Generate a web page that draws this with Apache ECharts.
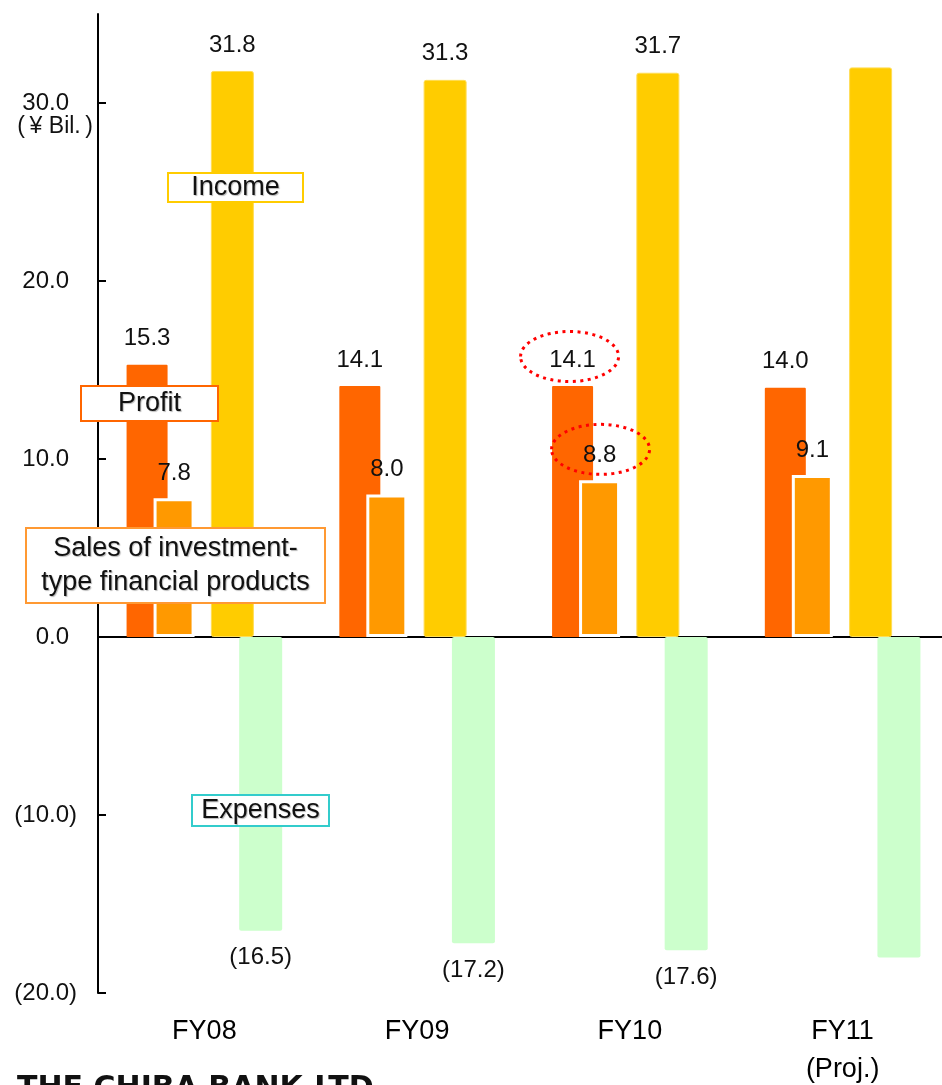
<!DOCTYPE html>
<html>
<head>
<meta charset="utf-8">
<script src="https://cdn.jsdelivr.net/npm/echarts@6/dist/echarts.min.js"></script>
<style>
  html, body { margin: 0; padding: 0; background: #fff; }
  #chart { width: 942px; height: 1085px; }
</style>
</head>
<body>
<div id="chart"></div>
<script>
// Fiscal years and the four series (¥ billions)
const categories = ['FY08', 'FY09', 'FY10', 'FY11\n(Proj.)'];
const profit   = [15.3, 14.1, 14.1, 14.0];
const sales    = [7.8, 8.0, 8.8, 9.1];
const income   = [31.8, 31.3, 31.7, 32.0];
const expenses = [-16.5, -17.2, -17.6, -18.0];
// which bars carry a value label
const incomeLabelled   = [true, true, true, false];
const expensesLabelled = [true, true, true, false];
// value-axis ticks
const yTicks = [-20, -10, 0, 10, 20, 30];

const FONT = '"Liberation Sans", Arial, sans-serif';
const fmt = v => v < 0 ? '(' + (-v).toFixed(1) + ')' : v.toFixed(1);

const chart = echarts.init(document.getElementById('chart'), null, { renderer: 'canvas' });

const GAP = '-34.15%';
const valueLabel = (pos, dist) => ({
  show: true, position: pos, distance: dist,
  color: '#111', fontSize: 24, fontFamily: FONT,
  formatter: p => fmt(p.value)
});

const boxText = (id, x, y, w, h, color, text) => ({
  type: 'group', id: id, z: 100,
  children: [
    { type: 'rect', z: 100, shape: { x: x, y: y, width: w, height: h },
      style: { fill: '#fff', stroke: color, lineWidth: 2 } },
    { type: 'text', z: 101, x: x + w / 2, y: y + h / 2,
      style: { text: text, fill: '#111', font: '27px ' + FONT, align: 'center',
               verticalAlign: 'middle', lineHeight: 34,
               textShadowColor: 'rgba(0,0,0,0.28)', textShadowOffsetX: 1,
               textShadowOffsetY: 1, textShadowBlur: 1 } }
  ]
});

chart.setOption({
  animation: false,
  backgroundColor: '#fff',
  grid: { left: 98, top: 14, width: 851, height: 979, outerBoundsMode: 'none', containLabel: false },
  xAxis: [
    {
      type: 'category', data: categories,
      axisLine: { onZero: true, lineStyle: { color: '#000', width: 2 } },
      axisTick: { inside: true, length: 10, lineStyle: { color: '#000', width: 2 } },
      axisLabel: { show: false },
      splitLine: { show: false }
    },
    {
      type: 'category', data: categories, position: 'bottom',
      axisLine: { show: false, onZero: false },
      axisTick: { show: false },
      axisLabel: { color: '#000', fontSize: 27, fontFamily: FONT, margin: 20, lineHeight: 38 },
      splitLine: { show: false }
    }
  ],
  yAxis: {
    type: 'value', min: -20, max: 35, interval: 10,
    axisLine: { show: true, lineStyle: { color: '#000', width: 2 } },
    axisTick: { show: true, inside: true, length: 8, customValues: yTicks,
                lineStyle: { color: '#000', width: 2 } },
    axisLabel: {
      customValues: yTicks, margin: 21, color: '#111', fontSize: 24, fontFamily: FONT,
      formatter: v => v < 0 ? fmt(v) : '{p|' + fmt(v) + '}',
      rich: { p: { fontSize: 24, fontFamily: FONT, color: '#111', padding: [0, 8, 0, 0] } }
    },
    splitLine: { show: false }
  },
  series: [
    {
      name: 'Profit', type: 'bar', xAxisIndex: 0, barWidth: 41, barGap: GAP,
      data: profit,
      itemStyle: { color: '#FF6600', borderRadius: 1 },
      label: valueLabel('top', 14)
    },
    {
      name: 'Sales of investment-type financial products', type: 'bar', xAxisIndex: 0,
      barWidth: 41, barGap: GAP,
      data: sales,
      itemStyle: { color: '#FF9900', borderColor: '#fff', borderWidth: 3 },
      label: valueLabel('top', 13)
    },
    {
      // empty slot that spaces the two pairs of bars
      name: 'spacer', type: 'bar', xAxisIndex: 0, barWidth: 46, barGap: GAP,
      data: categories.map(() => null), silent: true
    },
    {
      name: 'Income', type: 'bar', xAxisIndex: 0, barWidth: 43, barGap: GAP,
      data: income.map((v, i) => ({ value: v, label: { show: incomeLabelled[i] } })),
      itemStyle: { color: '#FFCC00', borderColor: '#FFDD55', borderWidth: 1, borderRadius: 2 },
      label: valueLabel('top', 14)
    },
    {
      name: 'Expenses', type: 'bar', xAxisIndex: 0, barWidth: 43, barGap: GAP,
      data: expenses.map((v, i) => ({ value: v, label: { show: expensesLabelled[i] } })),
      itemStyle: { color: '#CCFFCC', borderRadius: 2 },
      label: valueLabel('bottom', 15)
    }
  ],
  graphic: {
    elements: [
      { type: 'text', id: 'unit', x: 93, y: 127, z: 100,
        style: { text: '(\u2009¥ Bil.\u2009)', fill: '#111', font: '23px ' + FONT,
                 align: 'right', verticalAlign: 'middle' } },
      boxText('boxIncome', 168, 173, 135, 29, '#FFCC00', 'Income'),
      boxText('boxProfit', 81, 386, 137, 35, '#FF6600', 'Profit'),
      boxText('boxSales', 26, 528, 299, 75, '#FF9933', 'Sales of investment-\ntype financial products'),
      boxText('boxExpenses', 192, 795, 137, 31, '#33CCCC', 'Expenses'),
      { type: 'text', id: 'company', x: 17, y: 1074, z: 100,
        style: { text: 'THE CHIBA BANK,LTD.', fill: '#111', font: 'bold 30px "DejaVu Sans", sans-serif',
                 align: 'left', verticalAlign: 'top' } }
    ]
  }
});

// Dotted red rings highlighting the FY10 profit and sales figures
function barTop(seriesIndex, dataIndex) {
  const l = chart.getModel().getSeriesByIndex(seriesIndex).getData().getItemLayout(dataIndex);
  return { cx: l.x + l.width / 2, top: Math.min(l.y, l.y + l.height) };
}
const fy10 = categories.indexOf('FY10');
const p = barTop(0, fy10);
const s = barTop(1, fy10);
const ring = (id, cx, cy) => ({
  type: 'ellipse', id: id, z: 110,
  shape: { cx: cx, cy: cy, rx: 49, ry: 25 },
  style: { fill: 'none', stroke: '#FF0000', lineWidth: 3, lineDash: [3, 4.5] }
});
chart.setOption({
  graphic: { elements: [ring('ringProfit', p.cx - 3, p.top - 29.5), ring('ringSales', s.cx + 1, s.top - 31)] }
});
</script>
</body>
</html>
